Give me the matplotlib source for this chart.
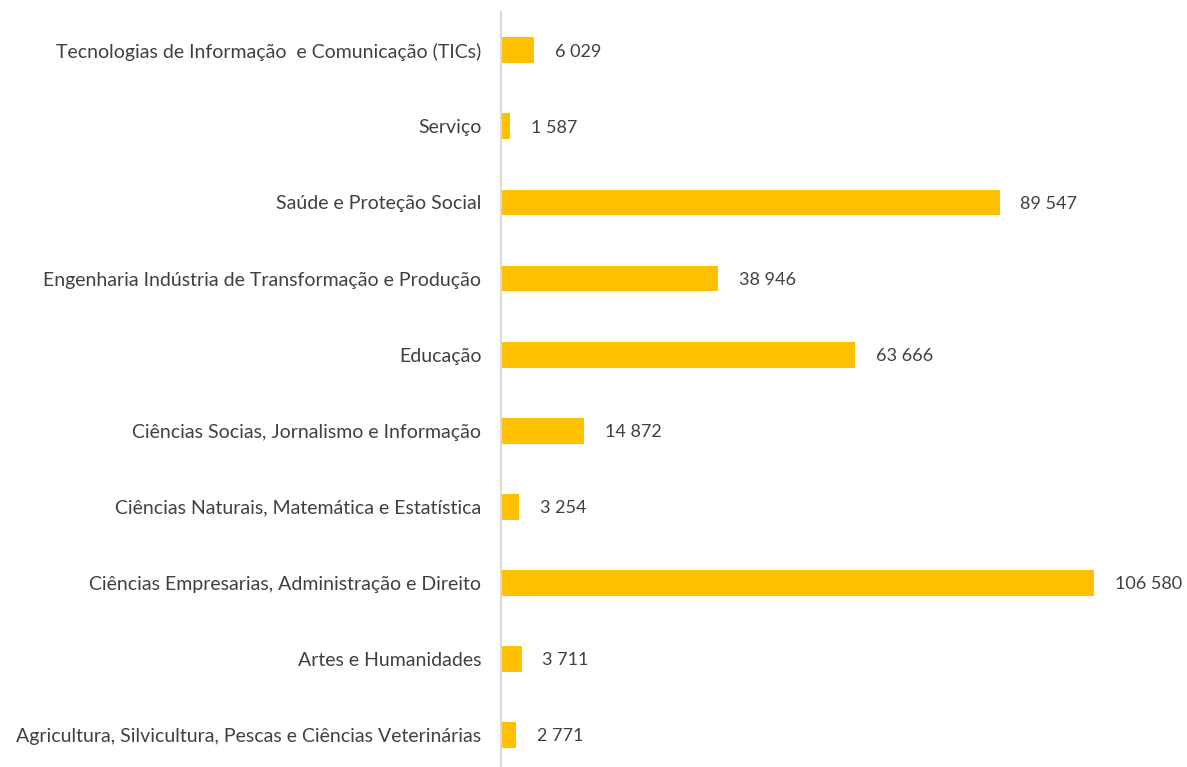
import matplotlib.pyplot as plt

categorias = [
    "Agricultura, Silvicultura, Pescas e Ciências Veterinárias",
    "Artes e Humanidades",
    "Ciências Empresarias, Administração e Direito",
    "Ciências Naturais, Matemática e Estatística",
    "Ciências Socias, Jornalismo e Informação",
    "Educação",
    "Engenharia Indústria de Transformação e Produção",
    "Saúde e Proteção Social",
    "Serviço",
    "Tecnologias de Informação  e Comunicação (TICs)",
]
valores = [2771, 3711, 106580, 3254, 14872, 63666, 38946, 89547, 1587, 6029]

cor_barra = "#FFC000"
cor_texto = "#404040"

plt.rcParams["font.family"] = ["Lato", "DejaVu Sans"]

fig = plt.figure(figsize=(11.87, 7.67), dpi=100)
ax = fig.add_axes([0.422, 0.0, 0.578, 0.984])

pos = list(range(len(categorias)))
ax.barh(pos, valores, height=0.34, color=cor_barra)

for y, v in zip(pos, valores):
    txt = f"{v:,}".replace(",", " ")
    ax.annotate(txt, (v, y), xytext=(15, -1), textcoords="offset points",
                va="center", ha="left", fontsize=13, color=cor_texto)

ax.set_xlim(0, 123200)
ax.set_ylim(-0.42, 9.5)
ax.set_yticks(pos)
ax.set_yticklabels(categorias, fontsize=14, color=cor_texto)
ax.tick_params(axis="y", length=0, pad=14)
ax.set_xticks([])

for s in ["top", "right", "bottom"]:
    ax.spines[s].set_visible(False)
ax.spines["left"].set_color("#D9D9D9")
ax.spines["left"].set_linewidth(1.5)

fig.savefig("out.png", dpi=100)
